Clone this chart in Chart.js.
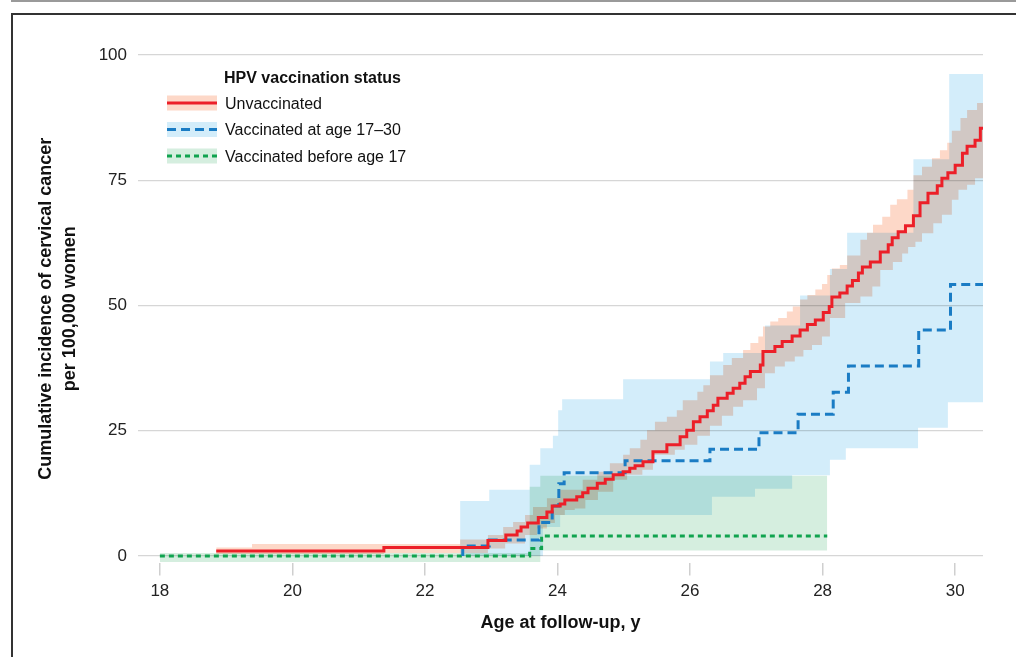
<!DOCTYPE html>
<html>
<head>
<meta charset="utf-8">
<title>Cumulative incidence of cervical cancer by HPV vaccination status</title>
<script src="https://cdn.jsdelivr.net/npm/chart.js@4.4.1/dist/chart.umd.min.js"></script>
<style>
    body { margin: 0; background: #fff; }
    #wrap { position: relative; width: 1016px; height: 657px; overflow: hidden; }
    #rule { position: absolute; left: 11px; right: 0; top: 0; height: 2px; background: #9a9a9a; }
    #frame { position: absolute; left: 11px; top: 13px; right: -20px; bottom: -20px;
             border-left: 2px solid #333; border-top: 2px solid #333; }
    #box { position: absolute; left: 0; top: 0; width: 1016px; height: 657px; }
</style>
</head>
<body>
<div id="wrap">
    <div id="rule"></div>
    <div id="frame"></div>
    <div id="box"><canvas id="chart"></canvas></div>
</div>
<script>
// Axis ticks and texts
const xTicks = [18, 20, 22, 24, 26, 28, 30];
const yTicks = [0, 25, 50, 75, 100];
const xTitle = 'Age at follow-up, y';
const yTitle = ['Cumulative incidence of cervical cancer', 'per 100,000 women'];
const legendTitle = 'HPV vaccination status';
const seriesNames = ['Unvaccinated', 'Vaccinated at age 17\u201330', 'Vaccinated before age 17'];

// Unvaccinated: step curve and confidence band
const redAge = [18.85, 21.38, 22.95, 23.22, 23.39, 23.45, 23.55, 23.71, 23.84, 23.92,
    24.04, 24.11, 24.29, 24.38, 24.46, 24.60, 24.72, 24.84, 24.99, 25.09,
    25.17, 25.29, 25.44, 25.65, 25.85, 25.95, 26.05, 26.15, 26.26, 26.35,
    26.42, 26.56, 26.65, 26.75, 26.83, 26.91, 27.06, 27.10, 27.28, 27.39,
    27.54, 27.66, 27.77, 27.89, 28.01, 28.10, 28.14, 28.26, 28.37, 28.45,
    28.54, 28.60, 28.72, 28.87, 28.99, 29.05, 29.14, 29.25, 29.37, 29.47,
    29.59, 29.73, 29.80, 29.89, 30.00, 30.11, 30.18, 30.30, 30.38, 30.42];
const redVal = [1.0, 1.7, 3.1, 4.2, 5.0, 5.8, 6.6, 7.7, 8.8, 10.0,
    10.4, 11.2, 11.8, 12.6, 13.5, 14.5, 15.3, 16.2, 16.8, 17.5,
    18.0, 18.8, 20.8, 22.2, 23.8, 25.1, 26.8, 27.8, 29.0, 30.1,
    31.5, 32.5, 33.5, 34.5, 35.8, 36.8, 38.1, 40.8, 41.8, 42.8,
    43.9, 45.1, 46.2, 47.1, 48.6, 49.8, 51.7, 52.5, 53.9, 55.0,
    56.5, 57.7, 58.7, 60.7, 62.1, 63.5, 64.7, 65.9, 67.9, 70.5,
    72.4, 73.9, 75.4, 76.5, 78.0, 80.4, 81.8, 83.0, 85.4, 85.4];
const redHiAge = [18.85, 19.39, 22.53, 22.95, 23.18, 23.33, 23.51, 23.63, 23.84, 24.04,
    24.38, 24.60, 24.79, 24.99, 25.09, 25.25, 25.35, 25.47, 25.65, 25.80,
    25.89, 26.11, 26.20, 26.30, 26.50, 26.63, 26.80, 26.91, 27.03, 27.10,
    27.21, 27.33, 27.46, 27.55, 27.66, 27.77, 27.89, 27.99, 28.07, 28.14,
    28.26, 28.37, 28.57, 28.67, 28.76, 28.90, 29.02, 29.12, 29.28, 29.37,
    29.50, 29.65, 29.77, 29.88, 29.95, 30.08, 30.18, 30.33, 30.42];
const redHiVal = [1.7, 2.4, 3.3, 4.2, 5.8, 6.8, 8.2, 9.8, 11.5, 13.2,
    15.2, 16.8, 18.5, 20.2, 21.5, 23.2, 25.1, 26.8, 27.8, 29.1,
    31.1, 32.8, 34.1, 36.1, 38.1, 39.5, 41.1, 42.5, 43.8, 45.8,
    46.8, 47.5, 48.8, 49.8, 51.2, 52.1, 53.2, 54.3, 56.1, 57.4,
    58.1, 60.0, 63.1, 64.5, 66.1, 67.7, 70.1, 71.2, 73.1, 76.0,
    77.7, 79.4, 81.0, 82.5, 84.9, 87.4, 89.0, 90.4, 90.4];
const redLoAge = [18.85, 21.38, 22.95, 23.21, 23.51, 23.69, 23.84, 23.96, 24.11, 24.26,
    24.42, 24.61, 24.84, 25.05, 25.28, 25.44, 25.77, 25.92, 26.11, 26.30,
    26.48, 26.65, 26.80, 27.01, 27.13, 27.28, 27.43, 27.58, 27.71, 27.84,
    27.99, 28.11, 28.34, 28.57, 28.75, 28.87, 29.06, 29.20, 29.29, 29.40,
    29.50, 29.67, 29.80, 29.95, 30.05, 30.18, 30.30, 30.42];
const redLoVal = [0.4, 0.6, 1.5, 2.5, 4.2, 5.5, 6.6, 8.2, 9.2, 9.5,
    11.2, 12.8, 15.2, 16.2, 17.2, 20.2, 21.2, 22.2, 24.0, 26.0,
    28.0, 29.8, 31.1, 33.5, 36.5, 37.8, 38.8, 39.8, 41.1, 42.1,
    43.8, 47.5, 50.5, 51.8, 53.8, 57.1, 58.7, 60.4, 61.7, 62.7,
    64.4, 66.4, 68.1, 71.1, 73.1, 74.1, 75.4, 75.4];

// Vaccinated at age 17-30
const blueAge = [22.57, 22.57, 22.97, 23.72, 23.92, 24.02, 24.10, 25.02, 26.30, 27.04,
    27.63, 28.16, 28.39, 29.45, 29.93, 30.42];
const blueVal = [0, 2.0, 3.2, 6.7, 10.0, 14.4, 16.6, 19.0, 21.3, 24.6,
    28.3, 32.7, 37.9, 45.1, 54.2, 54.2];
const blueHiAge = [22.53, 22.97, 23.58, 23.74, 23.93, 24.01, 24.07, 24.99, 26.30, 26.50,
    27.13, 27.66, 28.11, 28.37, 29.37, 29.91, 30.42];
const blueHiVal = [11.0, 13.2, 18.2, 21.5, 24.0, 29.1, 31.3, 35.3, 38.8, 40.5,
    46.0, 52.0, 57.3, 64.5, 79.2, 96.2, 96.2];
const blueLoAge = [22.53, 23.78, 24.04, 26.33, 26.98, 27.54, 28.11, 28.35, 29.44, 29.89, 30.42];
const blueLoVal = [0, 5.8, 8.2, 11.8, 13.4, 16.1, 19.2, 21.5, 25.6, 30.7, 30.7];

// Vaccinated before age 17
const greenAge = [18, 23.58, 23.76, 28.07];
const greenVal = [0, 1.5, 4.0, 4.0];
const greenHiAge = [18, 23.58, 23.74, 28.07];
const greenHiVal = [0.6, 13.8, 16.0, 16.0];
const greenLoAge = [18, 23.74, 28.07];
const greenLoVal = [-1.2, 1.1, 1.1];

const lineColors = ['#ec1f28', '#1a7cc4', '#10a34f'];
const bandColors = ['#fdd8c8', '#d3edfa', '#d5eedf'];
const dashes = [[], [9, 5], [5, 4]];

const FONT = "'Liberation Sans', Arial, Helvetica, sans-serif";
Chart.defaults.font.family = FONT;
Chart.defaults.color = '#222';

function pts(xs, ys) {
    return xs.map((x, i) => ({ x: x, y: ys[i] }));
}

function stepLine(data, i) {
    return {
        data: data,
        stepped: true,
        borderColor: lineColors[i],
        borderWidth: 3,
        borderDash: dashes[i],
        pointRadius: 0,
        fill: false
    };
}

function bandEdge(data, i, fillNext) {
    return {
        data: data,
        stepped: true,
        borderColor: 'rgba(0,0,0,0)',
        borderWidth: 0,
        pointRadius: 0,
        backgroundColor: bandColors[i],
        fill: fillNext ? '+1' : false
    };
}

// bands are blended with multiply so overlaps darken like the original
const blendBands = {
    id: 'blendBands',
    beforeDatasetsDraw(chart) {
        chart.ctx.globalCompositeOperation = 'multiply';
    },
    afterDatasetDraw(chart, args) {
        if (args.index === 3) chart.ctx.globalCompositeOperation = 'source-over';
    },
    afterDatasetsDraw(chart) {
        chart.ctx.globalCompositeOperation = 'source-over';
    }
};

const keyBox = {
    id: 'keyBox',
    afterDraw(chart) {
        const ctx = chart.ctx;
        ctx.save();
        ctx.textBaseline = 'middle';
        ctx.fillStyle = '#111';
        ctx.font = 'bold 16px ' + FONT;
        ctx.fillText(legendTitle, 224, 78.5);
        ctx.font = '16px ' + FONT;
        seriesNames.forEach(function(name, i) {
            const y = 103 + i * 26.5;
            ctx.fillStyle = bandColors[i];
            ctx.fillRect(167, y - 7.5, 50, 15);
            ctx.strokeStyle = lineColors[i];
            ctx.lineWidth = 3;
            ctx.setLineDash(dashes[i]);
            ctx.beginPath();
            ctx.moveTo(167, y);
            ctx.lineTo(217, y);
            ctx.stroke();
            ctx.setLineDash([]);
            ctx.fillStyle = '#111';
            ctx.fillText(name, 225, y + 1.5);
        });
        ctx.restore();
    }
};

new Chart(document.getElementById('chart'), {
    type: 'line',
    data: {
        datasets: [
            stepLine(pts(redAge, redVal), 0),
            stepLine(pts(blueAge, blueVal), 1),
            stepLine(pts(greenAge, greenVal), 2),
            bandEdge(pts(redHiAge, redHiVal), 0, true),
            bandEdge(pts(redLoAge, redLoVal), 0, false),
            bandEdge(pts(blueHiAge, blueHiVal), 1, true),
            bandEdge(pts(blueLoAge, blueLoVal), 1, false),
            bandEdge(pts(greenHiAge, greenHiVal), 2, true),
            bandEdge(pts(greenLoAge, greenLoVal), 2, false)
        ]
    },
    options: {
        responsive: true,
        maintainAspectRatio: false,
        animation: false,
        layout: { padding: { top: 55, right: 33, left: 0, bottom: 0 } },
        plugins: {
            legend: { display: false },
            tooltip: { enabled: false }
        },
        scales: {
            x: {
                type: 'linear',
                min: 17.67,
                max: 30.42,
                afterBuildTicks: function(s) { s.ticks = xTicks.map(v => ({ value: v })); },
                afterFit: function(s) { s.height = 94.5; },
                grid: { drawOnChartArea: false, color: '#cfcfcf', lineWidth: 1.5, tickLength: 13 },
                border: { display: false },
                ticks: { padding: 6, color: '#222', font: { size: 17 }, maxRotation: 0, autoSkip: false },
                title: {
                    display: true, text: xTitle, color: '#111',
                    font: { size: 18, weight: 'bold', lineHeight: 1.28 },
                    padding: { top: 0, bottom: 22.5 }
                }
            },
            y: {
                min: -1.3,
                max: 100,
                afterBuildTicks: function(s) { s.ticks = yTicks.map(v => ({ value: v })); },
                afterFit: function(s) { s.width = 138; },
                grid: { color: '#d6d6d6', lineWidth: 1.3, drawTicks: false },
                border: { display: false },
                ticks: { padding: 11, color: '#222', font: { size: 17 } },
                title: {
                    display: true, text: yTitle, color: '#111',
                    font: { size: 18, weight: 'bold', lineHeight: 1.28 },
                    padding: { top: 35, bottom: 0 }
                }
            }
        }
    },
    plugins: [blendBands, keyBox]
});
</script>
</body>
</html>
